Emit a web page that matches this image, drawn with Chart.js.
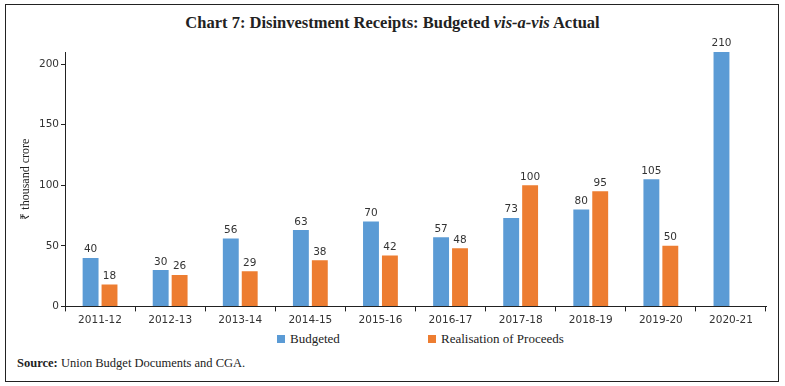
<!DOCTYPE html>
<html>
<head>
<meta charset="utf-8">
<script src="https://cdn.jsdelivr.net/npm/chart.js@4"></script>
<style>
  body { margin: 0; background: #fff; }
  #frame { position: absolute; left: 5px; top: 4px; width: 772px; height: 376px; border: 1px solid #222; }
  #title { position: absolute; left: 0; top: 13px; width: 785px; text-align: center; font: bold 16.5px "Liberation Serif", serif; color: #222; }
  #wrap { position: absolute; left: 8px; top: 34px; width: 766px; height: 296px; }
  #legend { position: absolute; top: 331px; left: 0; width: 785px; font: 13px "Liberation Serif", serif; color: #222; }
  .item { position: absolute; white-space: nowrap; }
  .box { display: inline-block; width: 8px; height: 8px; margin-right: 5px; }
  #source { position: absolute; left: 17px; top: 356px; font: 12.5px "Liberation Serif", serif; color: #222; }
</style>
</head>
<body>
<div id="frame"></div>
<div id="title">Chart 7: Disinvestment Receipts: Budgeted <i>vis-a-vis</i> Actual</div>
<div id="wrap"><canvas id="myChart"></canvas></div>
<div id="legend">
  <span class="item" style="left:277px"><span class="box" style="background:#5B9BD5"></span>Budgeted</span>
  <span class="item" style="left:428px"><span class="box" style="background:#ED7D31"></span>Realisation of Proceeds</span>
</div>
<div id="source"><b>Source:</b> Union Budget Documents and CGA.</div>
<script>
const years = ['2011-12', '2012-13', '2013-14', '2014-15', '2015-16', '2016-17', '2017-18', '2018-19', '2019-20', '2020-21'];
const budgeted = [40, 30, 56, 63, 70, 57, 73, 80, 105, 210];
const realised = [18, 26, 29, 38, 42, 48, 100, 95, 50, null];
const yTicks = [0, 50, 100, 150, 200];

const ctx = document.getElementById('myChart');

Chart.defaults.color = '#333';
Chart.defaults.font.family = 'DejaVu Sans';
Chart.defaults.font.size = 10.5;

// value labels above bars
const barLabels = {
  id: 'barLabels',
  afterDatasetsDraw(chart) {
    const c = chart.ctx;
    c.save();
    c.font = '10.5px "DejaVu Sans"';
    c.fillStyle = '#333';
    c.textAlign = 'center';
    c.textBaseline = 'bottom';
    chart.data.datasets.forEach((ds, i) => {
      chart.getDatasetMeta(i).data.forEach((bar, j) => {
        if (ds.data[j] == null) return;
        c.fillText(ds.data[j], bar.x, bar.y - 3);
      });
    });
    c.restore();
  }
};

new Chart(ctx, {
  type: 'bar',
  data: {
    labels: years,
    datasets: [{
      label: 'Budgeted',
      data: budgeted,
      backgroundColor: '#5B9BD5',
      categoryPercentage: 0.54,
      barPercentage: 0.84,
    }, {
      label: 'Realisation of Proceeds',
      data: realised,
      backgroundColor: '#ED7D31',
      categoryPercentage: 0.54,
      barPercentage: 0.84,
    }],
  },
  options: {
    responsive: true,
    maintainAspectRatio: false,
    animation: false,
    layout: { padding: { top: 18, right: 8, left: 11, bottom: 0 } },
    scales: {
      y: {
        min: 0,
        max: 210,
        afterBuildTicks: axis => { axis.ticks = yTicks.map(v => ({ value: v })); },
        afterFit: scale => { scale.width = 46; },
        grid: { drawOnChartArea: false, tickLength: 4, color: '#222' },
        border: { color: '#222' },
        ticks: { padding: 2, color: '#333' },
        title: { display: true, text: '₹ thousand crore', font: { family: 'Liberation Serif', size: 12 }, color: '#222', padding: 0 },
      },
      x: {
        grid: { drawOnChartArea: false, tickLength: 5, color: '#222', offset: true },
        border: { color: '#222' },
        ticks: { padding: 3, color: '#333' },
      },
    },
    plugins: {
      tooltip: { enabled: false },
      legend: false,
    },
  },
  plugins: [barLabels],
});
</script>
</body>
</html>
